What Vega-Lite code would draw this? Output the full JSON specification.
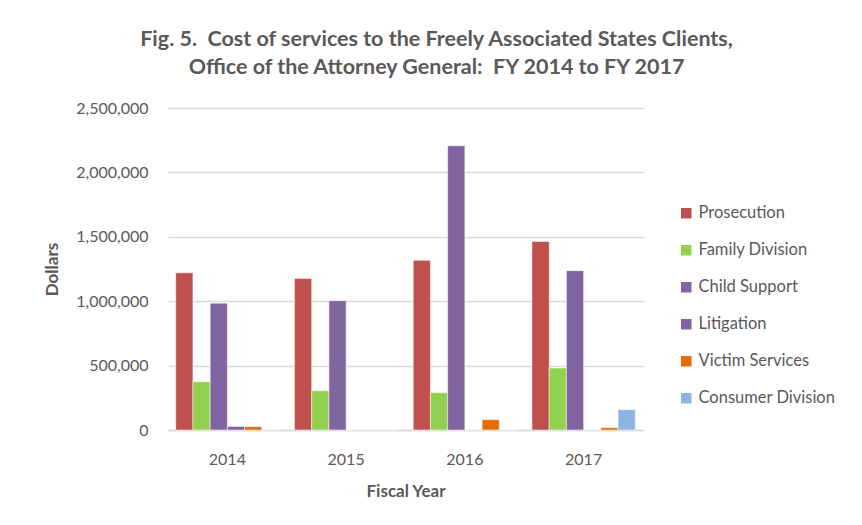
{
  "$schema": "https://vega.github.io/schema/vega-lite/v6.json",
  "width": 475,
  "height": 322,
  "autosize": "none",
  "padding": {"left": 168, "top": 108, "right": 219, "bottom": 95},
  "background": "white",
  "title": {
    "text": ["Fig. 5.\u00a0\u00a0Cost of services to the Freely Associated States Clients,", "Office of the Attorney General:\u00a0\u00a0FY 2014 to FY 2017"],
    "font": "Lato",
    "fontSize": 21.5,
    "fontWeight": "bold",
    "color": "#595959",
    "anchor": "middle",
    "dx": 31,
    "offset": 22,
    "lineHeight": 28
  },
  "data": {
    "values": [
      {"year": "2014", "series": "Prosecution", "value": 1220000},
      {"year": "2014", "series": "Family Division", "value": 375000},
      {"year": "2014", "series": "Child Support", "value": 985000},
      {"year": "2014", "series": "Litigation", "value": 27000},
      {"year": "2014", "series": "Victim Services", "value": 26000},
      {"year": "2014", "series": "Consumer Division", "value": 0},
      {"year": "2015", "series": "Prosecution", "value": 1177000},
      {"year": "2015", "series": "Family Division", "value": 305000},
      {"year": "2015", "series": "Child Support", "value": 1004000},
      {"year": "2015", "series": "Litigation", "value": 0},
      {"year": "2015", "series": "Victim Services", "value": 0},
      {"year": "2015", "series": "Consumer Division", "value": 0},
      {"year": "2016", "series": "Prosecution", "value": 1317000},
      {"year": "2016", "series": "Family Division", "value": 290000},
      {"year": "2016", "series": "Child Support", "value": 2207000},
      {"year": "2016", "series": "Litigation", "value": 0},
      {"year": "2016", "series": "Victim Services", "value": 80000},
      {"year": "2016", "series": "Consumer Division", "value": 0},
      {"year": "2017", "series": "Prosecution", "value": 1464000},
      {"year": "2017", "series": "Family Division", "value": 481000},
      {"year": "2017", "series": "Child Support", "value": 1237000},
      {"year": "2017", "series": "Litigation", "value": 0},
      {"year": "2017", "series": "Victim Services", "value": 18000},
      {"year": "2017", "series": "Consumer Division", "value": 158000}
    ]
  },
  "mark": {"type": "bar", "stroke": "white", "strokeWidth": 1, "strokeOpacity": 0.5},
  "encoding": {
    "x": {
      "field": "year",
      "type": "nominal",
      "scale": {"paddingInner": 0.13, "paddingOuter": 0.065},
      "axis": {
        "title": "Fiscal Year",
        "labelAngle": 0,
        "labelFont": "Lato",
        "labelFontSize": 16,
        "labelColor": "#595959",
        "labelPadding": 21,
        "ticks": false,
        "domainColor": "#D9D9D9",
        "domainWidth": 1.5,
        "titleFont": "Lato",
        "titleFontSize": 17,
        "titleFontWeight": "bold",
        "titleColor": "#595959",
        "titlePadding": 16
      }
    },
    "xOffset": {
      "field": "series",
      "type": "nominal",
      "sort": ["Prosecution", "Family Division", "Child Support", "Litigation", "Victim Services", "Consumer Division"],
      "scale": {"paddingInner": 0, "paddingOuter": 0}
    },
    "y": {
      "field": "value",
      "type": "quantitative",
      "scale": {"domain": [0, 2500000]},
      "axis": {
        "title": "Dollars",
        "values": [0, 500000, 1000000, 1500000, 2000000, 2500000],
        "format": ",d",
        "labelFont": "Lato",
        "labelFontSize": 16,
        "labelColor": "#595959",
        "labelPadding": 20,
        "ticks": false,
        "domain": false,
        "gridColor": "#D9D9D9",
        "gridWidth": 1.5,
        "titleFont": "Lato",
        "titleFontSize": 17,
        "titleFontWeight": "bold",
        "titleColor": "#595959",
        "titlePadding": 14
      }
    },
    "color": {
      "field": "series",
      "type": "nominal",
      "sort": ["Prosecution", "Family Division", "Child Support", "Litigation", "Victim Services", "Consumer Division"],
      "scale": {
        "domain": ["Prosecution", "Family Division", "Child Support", "Litigation", "Victim Services", "Consumer Division"],
        "range": ["#C0504D", "#92D050", "#8064A2", "#7F63A2", "#E46C0A", "#8EB4E3"]
      },
      "legend": {
        "title": null,
        "orient": "none",
        "legendX": 510,
        "legendY": 97,
        "symbolType": "square",
        "symbolSize": 110,
        "symbolStrokeWidth": 0,
        "labelFont": "Lato",
        "labelFontSize": 16.5,
        "labelColor": "#595959",
        "rowPadding": 20,
        "labelOffset": 4
      }
    }
  },
  "config": {"view": {"stroke": null}}
}
